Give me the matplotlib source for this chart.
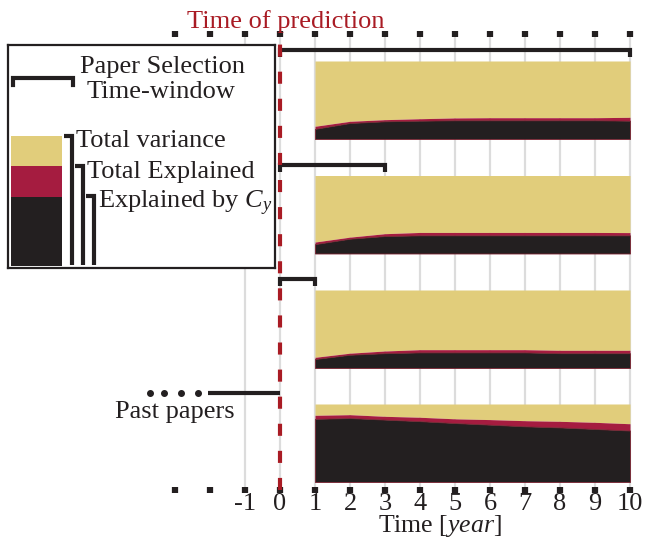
import matplotlib
matplotlib.use("Agg")
import matplotlib.pyplot as plt

plt.rcParams["font.family"] = ["Liberation Serif", "DejaVu Serif"]
plt.rcParams["mathtext.fontset"] = "custom"
plt.rcParams["mathtext.rm"] = "Liberation Serif"
plt.rcParams["mathtext.it"] = "Liberation Serif:italic"

# data
years = [1, 2, 3, 4, 5, 6, 7, 8, 9, 10]
tick_years = [-3, -2, -1, 0, 1, 2, 3, 4, 5, 6, 7, 8, 9, 10]
tick_labels = ["", "", "-1", "0", "1", "2", "3", "4", "5", "6", "7", "8", "9", "10"]
grid_years = [-1, 0, 1, 2, 3, 4, 5, 6, 7, 8, 9, 10]
windows = [10, 3, 1]  # paper selection time-window (years) for the 3 upper panels

# fraction of variance, explained by C_y and total explained (total variance = 1)
cy_1 = [0.13, 0.205, 0.227, 0.235, 0.24, 0.24, 0.24, 0.24, 0.24, 0.235]
tot_1 = [0.163, 0.227, 0.248, 0.26, 0.27, 0.273, 0.273, 0.273, 0.273, 0.278]
cy_2 = [0.12, 0.19, 0.224, 0.233, 0.233, 0.233, 0.233, 0.233, 0.233, 0.233]
tot_2 = [0.147, 0.21, 0.254, 0.27, 0.27, 0.27, 0.27, 0.27, 0.27, 0.268]
cy_3 = [0.115, 0.17, 0.19, 0.2, 0.2, 0.2, 0.2, 0.19, 0.19, 0.19]
tot_3 = [0.137, 0.19, 0.218, 0.235, 0.235, 0.235, 0.235, 0.227, 0.227, 0.227]
cy_past = [0.81, 0.82, 0.80, 0.78, 0.756, 0.735, 0.714, 0.70, 0.68, 0.66]
tot_past = [0.855, 0.863, 0.842, 0.83, 0.81, 0.80, 0.786, 0.778, 0.765, 0.747]
total_var = [1, 1, 1, 1, 1, 1, 1, 1, 1, 1]

panels = [(cy_1, tot_1), (cy_2, tot_2), (cy_3, tot_3), (cy_past, tot_past)]

YELLOW = "#E1CD7B"
CRIMSON = "#A51C40"
BLACK = "#231F20"
RED = "#A91B24"

fig = plt.figure(figsize=(6.46, 5.40), dpi=100)
ax = fig.add_axes([0, 50 / 540, 1, 456 / 540])
ax.set_xlim(-8, 366 / 35)
ax.set_ylim(490, 34)  # y in pixel rows, top is down
for s in ax.spines.values():
    s.set_visible(False)
ax.set_yticks([])
ax.set_xticks(tick_years)
ax.set_xticklabels(tick_labels)
ax.tick_params(axis="x", top=True, bottom=True, direction="inout", length=4.5,
               width=4.5, color=BLACK, labelsize=19, labelcolor=BLACK, pad=0)

for g in grid_years:
    ax.axvline(g, color="#DCDCDC", lw=1.6, zorder=0)
ax.axvline(0, color=RED, lw=3, linestyle=(0, (2.9, 3.6)), zorder=5)

# stacked panels
bottoms = [139, 253.5, 368, 482]
H = 78
for (cy, tot), b in zip(panels, bottoms):
    y_cy = [b - v * H for v in cy]
    y_tot = [b - v * H for v in tot]
    y_all = [b - v * H for v in total_var]
    ax.fill_between(years, y_tot, y_all, color=YELLOW, lw=0, zorder=2)
    ax.fill_between(years, y_cy, y_tot, color=CRIMSON, lw=0, zorder=2)
    ax.fill_between(years, b, y_cy, facecolor=BLACK, edgecolor="#7A2230", lw=0.6, zorder=2)

# time-window brackets
for w, y in zip(windows, [50, 165, 279]):
    ax.plot([0, 0, w, w], [y + 7, y, y, y + 7], color=BLACK, lw=3,
            solid_joinstyle="miter", solid_capstyle="butt", zorder=3)

# past papers
ax.plot([-2.06, 0], [393, 393], color=BLACK, lw=3, solid_capstyle="butt", zorder=3)
ax.plot([-3.71, -3.31, -2.83, -2.34], [393] * 4, "o", color=BLACK, ms=4, zorder=3)
ax.text(-1.29, 418, "Past papers", ha="right", va="baseline", fontsize=19, color=BLACK)

ax.text(0.16, 28, "Time of prediction", ha="center", va="baseline", fontsize=19,
        color=RED, clip_on=False)
ax.text(4.57, 532, r"Time [$\mathit{year}$]", ha="center", va="baseline",
        fontsize=18.5, color=BLACK, clip_on=False)

# legend box
lg = fig.add_axes([8 / 646, (540 - 268) / 540, 267 / 646, 223 / 540])
lg.set_xlim(0, 267)
lg.set_ylim(223, 0)
lg.set_xticks([])
lg.set_yticks([])
for s in lg.spines.values():
    s.set_linewidth(1.6)
    s.set_color(BLACK)

lg.plot([5, 5, 65, 65], [40, 33, 33, 40], color=BLACK, lw=3, solid_joinstyle="miter")
lg.text(154, 28, "Paper Selection", ha="center", va="baseline", fontsize=19, color=BLACK)
lg.text(153, 53, "Time-window", ha="center", va="baseline", fontsize=19, color=BLACK)

lg.fill_between([3, 54], 91, 121, color=YELLOW, lw=0)
lg.fill_between([3, 54], 121, 152, color=CRIMSON, lw=0)
lg.fill_between([3, 54], 152, 221, color=BLACK, lw=0)

legend_items = [("Total variance", 91, 64, 102),
                ("Total Explained", 121, 75, 133),
                (r"Explained by $C_y$", 151, 86, 163)]
for label, top, vx, base in legend_items:
    lg.plot([vx - 8, vx, vx], [top, top, 220], color=BLACK, lw=3,
            solid_joinstyle="miter", solid_capstyle="butt")
    lg.text(vx + 4, base, label, ha="left", va="baseline", fontsize=19, color=BLACK)

plt.savefig("out.png", dpi=100)
